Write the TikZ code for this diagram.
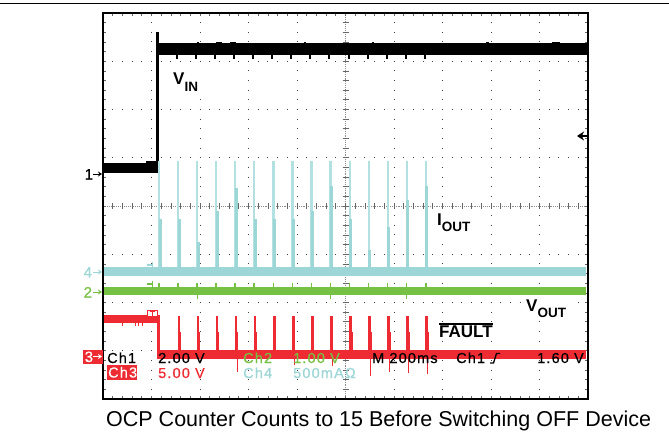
\documentclass[tikz,border=0pt]{standalone}
\usepackage{fontspec}
\setmainfont{Liberation Sans}
\newfontfamily\scopefont[LetterSpace=8,FakeBold=0.4]{Liberation Sans}
\usetikzlibrary{arrows.meta}
\definecolor{trcy}{HTML}{9DD6D6}
\definecolor{trcyl}{HTML}{B3E0E0}
\definecolor{trgr}{HTML}{76C043}
\definecolor{trrd}{HTML}{EE2B33}
\tikzset{
  scopetxt/.style={font=\scopefont\fontsize{14.5}{14.5}\selectfont, inner sep=0pt, anchor=base west},
  sig/.style={font=\bfseries\fontsize{17}{17}\selectfont, fill=white, inner sep=3pt, anchor=base west},
  hdot/.style={black!75, line width=0.9pt, dash pattern=on 1pt off 8.7pt, dash phase=0.5pt},
  vdot/.style={black!75, line width=0.9pt, dash pattern=on 1pt off 8.65pt, dash phase=0.5pt},
  cdot/.style={black!45, line width=0.8pt, dash pattern=on 0.8pt off 1.1pt},
  ctick/.style={black!60, line width=0.7pt},
  chmark/.style={font=\scopefont\fontsize{15}{15}\selectfont, inner sep=0pt, anchor=base west},
  markarrow/.style={-{Stealth[length=4pt,width=5pt]}, line width=1pt},
}
\newcommand{\sigsub}[1]{\raisebox{-6.5pt}{\fontsize{13.5}{13.5}\selectfont #1}}
\begin{document}
\begin{tikzpicture}[x=1pt,y=-1pt]
\useasboundingbox (0,0) rectangle (669,433);
\fill[white] (0,0) rectangle (669,433);
\draw[line width=1.3pt] (0,3.5) -- (669,3.5);

% graticule
\foreach \i in {1,2,3,4,6,7,8,9} \draw[vdot] (103+48.5*\i,13) -- (103+48.5*\i,399);
\foreach \j in {1,2,3,5,6,7} \draw[hdot] (103,13+48.25*\j) -- (588,13+48.25*\j);
\draw[cdot] (103,206) -- (588,206);
\draw[cdot] (345.5,13) -- (345.5,399);
\foreach \m in {1,...,49} \draw[ctick] (103+9.7*\m,203) -- (103+9.7*\m,209);
\foreach \m in {1,...,39} \draw[ctick] (342.5,13+9.65*\m) -- (348.5,13+9.65*\m);
\foreach \m in {1,...,49} {
  \draw[ctick] (103+9.7*\m,13) -- (103+9.7*\m,16);
  \draw[ctick] (103+9.7*\m,399) -- (103+9.7*\m,396);
}
\foreach \m in {1,...,39} {
  \draw[ctick] (103,13+9.65*\m) -- (106,13+9.65*\m);
  \draw[ctick] (588,13+9.65*\m) -- (585,13+9.65*\m);
}

% VIN (black)
\fill[black] (103,163) rectangle (157,173);
\fill[black] (146,161) rectangle (157,165);
\fill[black] (155.5,32) rectangle (158.5,173);
\fill[black] (157,43) rectangle (587,55);
\foreach \k in {0,...,14} {
  \pgfmathsetmacro{\xx}{158+19.05*\k}
  \fill[black] (\xx-1,55) rectangle (\xx+1,59);
}
\foreach \a/\b in {197/199,216/222,230/236,304/306,372/374,486/489,552/560}
  \fill[black] (\a,42) rectangle (\b,43);

% IOUT (cyan)
\fill[trcy] (103,267) rectangle (586,276);
\foreach \k/\h in {0/219,1/219,2/242,3/211,4/188,5/219,6/219,7/219,8/211,9/186,10/219,11/250,12/227,13/200,14/186} {
  \pgfmathsetmacro{\xx}{159+19.05*\k}
  \fill[trcyl] (\xx-1,161) rectangle (\xx+1.2,267);
  \fill[trcy] (\xx-0.3,\h) rectangle (\xx+2.7,267);
}
\draw[trcy, line width=1.5pt] (147,265) -- (153,265);
\draw[trcy, line width=1pt] (152,262) -- (152,267);

% VOUT (green)
\fill[trgr] (103,287) rectangle (586,295);
\foreach \k in {0,...,14} {
  \pgfmathsetmacro{\xx}{159+19.05*\k}
  \fill[trgr] (\xx-0.8,283) rectangle (\xx+0.8,287);
}
\foreach \k in {2,9,13} {
  \pgfmathsetmacro{\xx}{159+19.05*\k}
  \fill[trgr] (\xx-0.5,295) rectangle (\xx+0.8,299);
}
\draw[trgr, line width=1.5pt] (147,284) -- (153,284);
\draw[trgr, line width=1pt] (152,281) -- (152,287);

% FAULT (red)
\fill[trrd] (103,315) rectangle (158,323);
\foreach \a in {122,135,138,142} \fill[trrd] (\a,323) rectangle (\a+1.2,326);
\fill[trrd] (156.5,315) rectangle (159.5,359);
\fill[trrd] (158,350) rectangle (586,359);
\foreach \k in {1,...,14} {
  \pgfmathsetmacro{\xx}{159+19.05*\k}
  \fill[trrd] (\xx-0.5,316) rectangle (\xx+2.2,350);
  \fill[trrd] (\xx-0.5,332) rectangle (\xx+3,350);
}
\foreach \k/\e in {4/372,7/365,9/366,11/376,12/372,13/373,14/374} {
  \pgfmathsetmacro{\xx}{159+19.05*\k}
  \fill[trrd] (\xx+1.5,359) rectangle (\xx+2.7,\e);
}
\draw[trrd, line width=0.9pt, fill=white] (147,310.5) rectangle (157,316);
\draw[trrd, line width=0.8pt] (149.5,311.5) -- (154.5,311.5) (152,311.5) -- (152,315.5);

% frame
\draw[line width=1.1pt] (103,13) rectangle (588,399);

% channel markers on the left
\node[chmark, text=black] (m1) at (84.5,179.5) {1};
\coordinate (m1a) at (93,174);
\coordinate (m1b) at (102,174);
\draw[markarrow, black] (m1a) -- (m1b);
\node[chmark, text=trcy] (m4) at (83.5,277.5) {4};
\coordinate (m4a) at (93,272);
\coordinate (m4b) at (102,272);
\draw[markarrow, trcy] (m4a) -- (m4b);
\node[chmark, text=trgr] (m2) at (83.5,297.5) {2};
\coordinate (m2a) at (93,292);
\coordinate (m2b) at (102,292);
\draw[markarrow, trgr] (m2a) -- (m2b);
\fill[trrd] (83,349.5) rectangle (103,363.5);
\node[chmark, text=white] (m3) at (84.5,362) {3};
\coordinate (m3a) at (93,356.5);
\coordinate (m3b) at (102,356.5);
\draw[markarrow, white] (m3a) -- (m3b);

% trigger level arrow on the right
\coordinate (tla) at (588,136);
\coordinate (tlb) at (577,136);
\draw[-{Stealth[length=7pt,width=9pt]}, line width=1.2pt] (tla) -- (tlb);

% scope readout
\node[scopetxt, text=black] (r1a) at (107,363) {Ch1};
\node[scopetxt, text=black] (r1b) at (158,363) {2.00 V};
\node[scopetxt, text=trgr] (r1c) at (243,363) {Ch2};
\node[scopetxt, text=trgr] (r1d) at (293,363) {1.00 V};
\node[scopetxt, text=black] (r1e) at (372,363) {M 200ms};
\node[scopetxt, text=black] (r1f) at (456,363) {Ch1};
\draw[line width=1.3pt] (490,363) -- (493.5,363) -- (496.5,353.5) -- (500,353.5);
\node[scopetxt, text=black] (r1g) at (537,363) {1.60 V};
\fill[trrd] (107,365) rectangle (137,379.5);
\node[scopetxt, text=white] (r2a) at (108,377.5) {Ch3};
\node[scopetxt, text=trrd] (r2b) at (158,378) {5.00 V};
\node[scopetxt, text=trcy] (r2c) at (243,378) {Ch4};
\node[scopetxt, text=trcy] (r2d) at (293,378) {500mAΩ};

% signal labels
\node[sig] (vin) at (170,85) {V\sigsub{IN}};
\node[sig] (iout) at (434,225) {I\sigsub{OUT}};
\node[sig] (vout) at (523,311) {V\sigsub{OUT}};
\node[sig, inner sep=2pt] (fault) at (437,337) {FAULT};
\draw[line width=1.3pt] ([xshift=2pt,yshift=-1pt]fault.north west) -- ([xshift=-2pt,yshift=-1pt]fault.north east);

% caption
\node[font=\fontsize{21.5}{22}\selectfont, inner sep=0pt, anchor=base west] (cap) at (106,426.5) {OCP Counter Counts to 15 Before Switching OFF Device};
\end{tikzpicture}
\end{document}
